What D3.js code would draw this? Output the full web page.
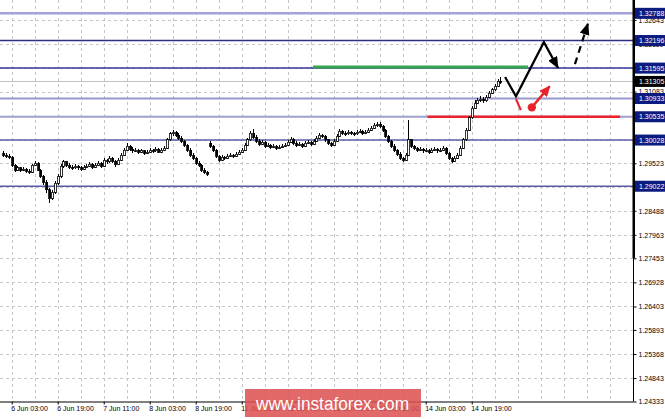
<!DOCTYPE html>
<html>
<head>
<meta charset="utf-8">
<script src="https://cdn.jsdelivr.net/npm/d3@7"></script>
<style>
  body { margin: 0; background: #fff; }
  svg { display: block; font-family: "Liberation Sans", Arial, sans-serif; }
</style>
</head>
<body>
<svg id="chart" width="665" height="419"></svg>
<script>
// H1 bars [open, high, low, close], bar 0 = 6 Jun 00:00, weekend skipped
const jun6 = [
  [1.2974,1.2979,1.2965,1.2970],[1.2970,1.2974,1.2963,1.2968],[1.2968,1.2972,1.2961,1.2965],[1.2965,1.2968,1.2944,1.2948],
  [1.2948,1.2950,1.2933,1.2937],[1.2937,1.2946,1.2935,1.2942],[1.2942,1.2944,1.2933,1.2937],[1.2937,1.2944,1.2935,1.2939],
  [1.2939,1.2942,1.2931,1.2935],[1.2935,1.2939,1.2928,1.2933],[1.2933,1.2950,1.2931,1.2948],[1.2948,1.2957,1.2946,1.2952],
  [1.2952,1.2955,1.2935,1.2937],[1.2937,1.2939,1.2920,1.2924],[1.2924,1.2926,1.2905,1.2911],[1.2911,1.2915,1.2887,1.2894],
  [1.2894,1.2898,1.2866,1.2876],[1.2876,1.2894,1.2872,1.2889],[1.2889,1.2913,1.2885,1.2909],[1.2909,1.2928,1.2905,1.2924],
  [1.2924,1.2950,1.2920,1.2946],[1.2946,1.2959,1.2942,1.2955],[1.2955,1.2957,1.2944,1.2948],[1.2948,1.2952,1.2939,1.2944]
];
const jun7 = [
  [1.2944,1.2948,1.2937,1.2942],[1.2942,1.2950,1.2939,1.2946],[1.2946,1.2948,1.2937,1.2942],[1.2942,1.2946,1.2935,1.2939],
  [1.2939,1.2948,1.2937,1.2944],[1.2944,1.2950,1.2942,1.2946],[1.2946,1.2955,1.2944,1.2950],[1.2950,1.2952,1.2939,1.2944],
  [1.2944,1.2952,1.2942,1.2948],[1.2948,1.2957,1.2946,1.2952],[1.2952,1.2955,1.2942,1.2946],[1.2946,1.2963,1.2944,1.2959],
  [1.2959,1.2961,1.2950,1.2955],[1.2955,1.2968,1.2952,1.2963],[1.2963,1.2965,1.2952,1.2957],[1.2957,1.2959,1.2944,1.2950],
  [1.2950,1.2963,1.2948,1.2959],[1.2959,1.2974,1.2957,1.2970],[1.2970,1.2985,1.2968,1.2981],[1.2981,1.2996,1.2979,1.2989],
  [1.2989,1.2992,1.2979,1.2983],[1.2983,1.2987,1.2974,1.2979],[1.2979,1.2985,1.2976,1.2981],[1.2981,1.2983,1.2972,1.2976]
];
const jun8 = [
  [1.2976,1.2983,1.2974,1.2979],[1.2979,1.2981,1.2970,1.2974],[1.2974,1.2981,1.2972,1.2976],[1.2976,1.2985,1.2974,1.2981],
  [1.2981,1.2983,1.2974,1.2979],[1.2979,1.2987,1.2976,1.2983],[1.2983,1.2985,1.2974,1.2976],[1.2976,1.2985,1.2974,1.2981],
  [1.2981,1.2989,1.2979,1.2985],[1.2985,1.3007,1.2983,1.3003],[1.3003,1.3020,1.3000,1.3016],[1.3016,1.3024,1.3011,1.3020],
  [1.3020,1.3022,1.3009,1.3013],[1.3013,1.3018,1.3003,1.3007],[1.3007,1.3011,1.2996,1.3000],[1.3000,1.3003,1.2987,1.2992],
  [1.2992,1.2994,1.2976,1.2981],[1.2981,1.2985,1.2965,1.2970],[1.2970,1.2974,1.2959,1.2963],[1.2963,1.2965,1.2948,1.2952],
  [1.2952,1.2957,1.2944,1.2948],[1.2948,1.2950,1.2933,1.2937],[1.2937,1.2942,1.2928,1.2933],[1.2933,1.2935,1.2924,1.2928]
];
const jun11 = [
  [1.2996,1.3000,1.2985,1.2989],[1.2989,1.2992,1.2976,1.2981],[1.2981,1.2983,1.2963,1.2968],[1.2968,1.2970,1.2955,1.2959],
  [1.2959,1.2970,1.2957,1.2965],[1.2965,1.2968,1.2959,1.2963],[1.2963,1.2972,1.2961,1.2968],[1.2968,1.2974,1.2965,1.2970],
  [1.2970,1.2972,1.2963,1.2968],[1.2968,1.2976,1.2965,1.2972],[1.2972,1.2981,1.2970,1.2976],[1.2976,1.2985,1.2974,1.2981],
  [1.2981,1.2996,1.2979,1.2992],[1.2992,1.3007,1.2989,1.3003],[1.3003,1.3022,1.3000,1.3018],[1.3018,1.3027,1.3005,1.3009],
  [1.3009,1.3013,1.2996,1.3000],[1.3000,1.3005,1.2989,1.2994],[1.2994,1.3003,1.2992,1.2998],[1.2998,1.3000,1.2985,1.2989],
  [1.2989,1.2996,1.2987,1.2992],[1.2992,1.2994,1.2983,1.2987],[1.2987,1.2994,1.2985,1.2989],[1.2989,1.2992,1.2981,1.2985]
];
const jun12 = [
  [1.2985,1.2992,1.2983,1.2987],[1.2987,1.2994,1.2985,1.2989],[1.2989,1.2996,1.2987,1.2992],[1.2992,1.3003,1.2989,1.2998],
  [1.2998,1.3009,1.2996,1.3005],[1.3005,1.3007,1.2992,1.2996],[1.2996,1.3000,1.2987,1.2992],[1.2992,1.2998,1.2989,1.2994],
  [1.2994,1.2996,1.2985,1.2989],[1.2989,1.3000,1.2987,1.2996],[1.2996,1.3003,1.2994,1.2998],[1.2998,1.3000,1.2989,1.2994],
  [1.2994,1.3005,1.2992,1.3000],[1.3000,1.3011,1.2998,1.3007],[1.3007,1.3018,1.3005,1.3013],[1.3013,1.3016,1.3007,1.3011],
  [1.3011,1.3013,1.2998,1.3003],[1.3003,1.3005,1.2992,1.2996],[1.2996,1.2998,1.2987,1.2992],[1.2992,1.3005,1.2989,1.3000],
  [1.3000,1.3016,1.2998,1.3011],[1.3011,1.3027,1.3009,1.3022],[1.3022,1.3024,1.3013,1.3018],[1.3018,1.3022,1.3011,1.3016]
];
const jun13 = [
  [1.3016,1.3024,1.3013,1.3020],[1.3020,1.3022,1.3013,1.3018],[1.3018,1.3020,1.3011,1.3016],[1.3016,1.3024,1.3013,1.3020],
  [1.3020,1.3027,1.3018,1.3022],[1.3022,1.3024,1.3013,1.3018],[1.3018,1.3024,1.3016,1.3020],[1.3020,1.3029,1.3018,1.3024],
  [1.3024,1.3033,1.3022,1.3029],[1.3029,1.3040,1.3027,1.3035],[1.3035,1.3042,1.3031,1.3037],[1.3037,1.3042,1.3029,1.3033],
  [1.3033,1.3035,1.3020,1.3024],[1.3024,1.3027,1.3007,1.3011],[1.3011,1.3013,1.2996,1.3000],[1.3000,1.3003,1.2985,1.2989],
  [1.2989,1.2994,1.2976,1.2981],[1.2981,1.2983,1.2968,1.2972],[1.2972,1.2976,1.2959,1.2963],[1.2963,1.2965,1.2955,1.2959],
  [1.2959,1.2974,1.2957,1.2970],[1.2970,1.3046,1.2968,1.3003],[1.3003,1.3005,1.2985,1.2989],[1.2989,1.2992,1.2981,1.2985]
];
const jun14 = [
  [1.2985,1.2987,1.2976,1.2981],[1.2981,1.2987,1.2979,1.2983],[1.2983,1.2985,1.2974,1.2979],[1.2979,1.2985,1.2976,1.2981],
  [1.2981,1.2983,1.2972,1.2976],[1.2976,1.2985,1.2974,1.2981],[1.2981,1.2987,1.2979,1.2983],[1.2983,1.2985,1.2974,1.2979],
  [1.2979,1.2985,1.2976,1.2981],[1.2981,1.2989,1.2979,1.2985],[1.2985,1.2987,1.2970,1.2974],[1.2974,1.2976,1.2959,1.2963],
  [1.2963,1.2965,1.2952,1.2957],[1.2957,1.2968,1.2955,1.2963],[1.2963,1.2974,1.2961,1.2970],[1.2970,1.2989,1.2968,1.2985],
  [1.2985,1.3007,1.2983,1.3003],[1.3003,1.3029,1.3000,1.3024],[1.3024,1.3055,1.3022,1.3051],[1.3051,1.3077,1.3048,1.3072],
  [1.3072,1.3090,1.3070,1.3083],[1.3083,1.3094,1.3081,1.3090],[1.3090,1.3098,1.3085,1.3092],[1.3092,1.3096,1.3083,1.3088]
];
const jun15 = [
  [1.3088,1.3101,1.3085,1.3096],[1.3096,1.3109,1.3094,1.3105],[1.3105,1.3116,1.3103,1.3112],
  [1.3112,1.3125,1.3109,1.3120],[1.3120,1.3136,1.3118,1.3131],[1.3131,1.3140,1.3125,1.3130]
];
const candles = [].concat(jun6, jun7, jun8, jun11, jun12, jun13, jun14, jun15);

// support / resistance levels with right-axis boxes
const levels = [1.32788, 1.32196, 1.31595, 1.30933, 1.30535, 1.30028, 1.29022];
const levelColors = ["#a2a2d6", "#2e2e82", "#34349a", "#9898cc", "#a0a0d2", "#5c5cac", "#5a5aa8"];
const levelWidths = [2.5, 1.5, 1.5, 2, 2, 1.5, 1.5];
const lastPrice = 1.31305;

// y-axis grid ticks
const priceTicks = [1.32643, 1.32119, 1.31594, 1.31083, 1.30558, 1.30033, 1.29523, 1.28998,
  1.28488, 1.27963, 1.27453, 1.26928, 1.26403, 1.25893, 1.25368, 1.24843, 1.24333];

// x-axis labels (bar index of each)
const timeBars = [3, 19, 35, 51, 67, 83, 99, 115, 131, 147, 163];
const timeLabels = ["6 Jun 03:00", "6 Jun 19:00", "7 Jun 11:00", "8 Jun 03:00", "8 Jun 19:00",
  "11 Jun 11:00", "12 Jun 03:00", "12 Jun 19:00", "13 Jun 11:00", "14 Jun 03:00", "14 Jun 19:00"];

// drawn zones and forecast, as [bar, price]
const greenZone = [[107.8, 1.3162], [182.6, 1.3162]];
const redZone = [[147.6, 1.30535], [214.6, 1.30535]];
const mainPath = [[174.6, 1.3140], [178.4, 1.3098], [188.1, 1.3216], [193.0, 1.3160]];
const altPath = [[198.9, 1.3168], [203.4, 1.3256]];
const redDash = [[178.4, 1.3092], [180.1, 1.3068]];
const redArrow = [[183.9, 1.3074], [190.1, 1.3120]];

const svg = d3.select("#chart");
const plotRight = 633.5, plotBottom = 401.5;

const x = d3.scaleLinear().domain([0, 220]).range([3.1, 3.1 + 220 * 2.875]);
const y = d3.scaleLinear().domain([1.24333, 1.32643]).range([plotBottom, 20]);

svg.append("clipPath").attr("id", "plotclip")
  .append("rect").attr("x", 0).attr("y", 0).attr("width", plotRight).attr("height", plotBottom);

const defs = svg.append("defs");
function marker(id, color, w, h) {
  defs.append("marker").attr("id", id)
    .attr("markerUnits", "userSpaceOnUse")
    .attr("markerWidth", w).attr("markerHeight", h)
    .attr("refX", w - 1).attr("refY", h / 2)
    .attr("orient", "auto")
    .append("path").attr("d", `M0,0 L${w},${h / 2} L0,${h} Z`).attr("fill", color);
}
marker("arrBlack", "#000", 12, 10);
marker("arrRed", "#e8232a", 11, 10);

const g = svg.append("g").attr("clip-path", "url(#plotclip)");

// grid
g.selectAll(".vgrid").data(d3.range(3, 221, 8)).join("line")
  .attr("x1", d => Math.round(x(d)) + 0.5).attr("x2", d => Math.round(x(d)) + 0.5)
  .attr("y1", 0).attr("y2", plotBottom)
  .attr("stroke", "#c6c6c6").attr("stroke-dasharray", "3,3");
g.selectAll(".hgrid").data(priceTicks).join("line")
  .attr("x1", 0).attr("x2", plotRight)
  .attr("y1", d => Math.round(y(d)) + 0.5).attr("y2", d => Math.round(y(d)) + 0.5)
  .attr("stroke", "#c6c6c6").attr("stroke-dasharray", "3,3");

// level lines
g.selectAll(".level").data(levels).join("line")
  .attr("x1", 0).attr("x2", plotRight)
  .attr("y1", d => y(d)).attr("y2", d => y(d))
  .attr("stroke", (d, i) => levelColors[i])
  .attr("stroke-width", (d, i) => levelWidths[i]);

g.append("line")
  .attr("x1", 0).attr("x2", plotRight)
  .attr("y1", Math.round(y(lastPrice)) + 0.5).attr("y2", Math.round(y(lastPrice)) + 0.5)
  .attr("stroke", "#c4c4c4");

const line = d3.line().x(d => x(d[0])).y(d => y(d[1]));

g.append("path").datum(greenZone).attr("d", line)
  .attr("stroke", "#36a650").attr("stroke-width", 3).attr("fill", "none");
g.append("path").datum(redZone).attr("d", line)
  .attr("stroke", "#e8232a").attr("stroke-width", 2.5).attr("fill", "none");

// candles
const cg = g.append("g").attr("shape-rendering", "crispEdges");
cg.selectAll(".wick").data(candles).join("line")
  .attr("x1", (d, i) => Math.round(x(i)) + 0.5).attr("x2", (d, i) => Math.round(x(i)) + 0.5)
  .attr("y1", d => y(d[1])).attr("y2", d => y(d[2]))
  .attr("stroke", "#000");
cg.selectAll(".body").data(candles).join("rect")
  .attr("x", (d, i) => Math.round(x(i)) - 0.5)
  .attr("y", d => y(Math.max(d[0], d[3])))
  .attr("width", 2)
  .attr("height", d => Math.max(1, Math.abs(y(d[0]) - y(d[3]))))
  .attr("fill", d => d[3] >= d[0] ? "#fff" : "#000")
  .attr("stroke", "#000").attr("stroke-width", 0.8);

// forecast
g.append("path").datum(mainPath).attr("d", line)
  .attr("stroke", "#000").attr("stroke-width", 2.2).attr("fill", "none")
  .attr("marker-end", "url(#arrBlack)");
g.append("path").datum(altPath).attr("d", line)
  .attr("stroke", "#000").attr("stroke-width", 2.2).attr("fill", "none")
  .attr("stroke-dasharray", "7,5")
  .attr("marker-end", "url(#arrBlack)");
g.append("path").datum(redDash).attr("d", line)
  .attr("stroke", "#e8232a").attr("stroke-width", 2.2).attr("fill", "none");
g.append("path").datum(redArrow).attr("d", line)
  .attr("stroke", "#e8232a").attr("stroke-width", 2.5).attr("fill", "none")
  .attr("marker-end", "url(#arrRed)");
g.append("circle")
  .attr("cx", x(redArrow[0][0])).attr("cy", y(redArrow[0][1])).attr("r", 4.2)
  .attr("fill", "#e8232a");

// right axis
const yAxis = d3.axisRight(y).tickValues(priceTicks).tickSize(3).tickFormat(d3.format(".5f"));
const ya = svg.append("g").attr("transform", `translate(${plotRight},0)`).call(yAxis);
ya.select(".domain").remove();
ya.selectAll("text").attr("font-size", 7).attr("font-family", "Liberation Sans, Arial, sans-serif")
  .attr("x", 5).attr("fill", "#000");
svg.append("line").attr("x1", plotRight).attr("x2", plotRight)
  .attr("y1", 0).attr("y2", plotBottom).attr("stroke", "#000");
svg.append("rect").attr("x", plotRight - 1).attr("y", 0).attr("width", 2.5).attr("height", 258)
  .attr("fill", "#000");

// level price boxes
const boxes = svg.append("g").selectAll("g").data(levels.concat([lastPrice])).join("g")
  .attr("transform", d => `translate(${plotRight + 1.5},${y(d)})`);
boxes.append("rect").attr("x", 0).attr("y", -5.5).attr("width", 30).attr("height", 11)
  .attr("fill", d => d === lastPrice ? "#000" : "#0c1b80");
boxes.append("text").attr("x", 4).attr("y", 2.6)
  .attr("font-size", 7).attr("fill", "#fff")
  .text(d => d3.format(".5f")(d));

// bottom axis
const xAxis = d3.axisBottom(x).tickValues(timeBars).tickSize(3)
  .tickFormat((d, i) => timeLabels[i]);
const xa = svg.append("g").attr("transform", `translate(0,${plotBottom})`).call(xAxis);
xa.select(".domain").attr("d", `M0,0.5H${plotRight}`);
xa.selectAll("text").attr("font-size", 7).attr("font-family", "Liberation Sans, Arial, sans-serif")
  .attr("text-anchor", "start").attr("x", -1).attr("y", 5).attr("fill", "#000");

// watermark
svg.append("rect").attr("x", 245).attr("y", 389).attr("width", 176).attr("height", 28)
  .attr("fill", "#dc4f4f").attr("opacity", 0.85);
svg.append("text").attr("x", 256).attr("y", 410)
  .attr("font-size", 18).attr("fill", "#fff")
  .attr("textLength", 153).attr("lengthAdjust", "spacingAndGlyphs")
  .text("www.instaforex.com");
</script>
</body>
</html>
